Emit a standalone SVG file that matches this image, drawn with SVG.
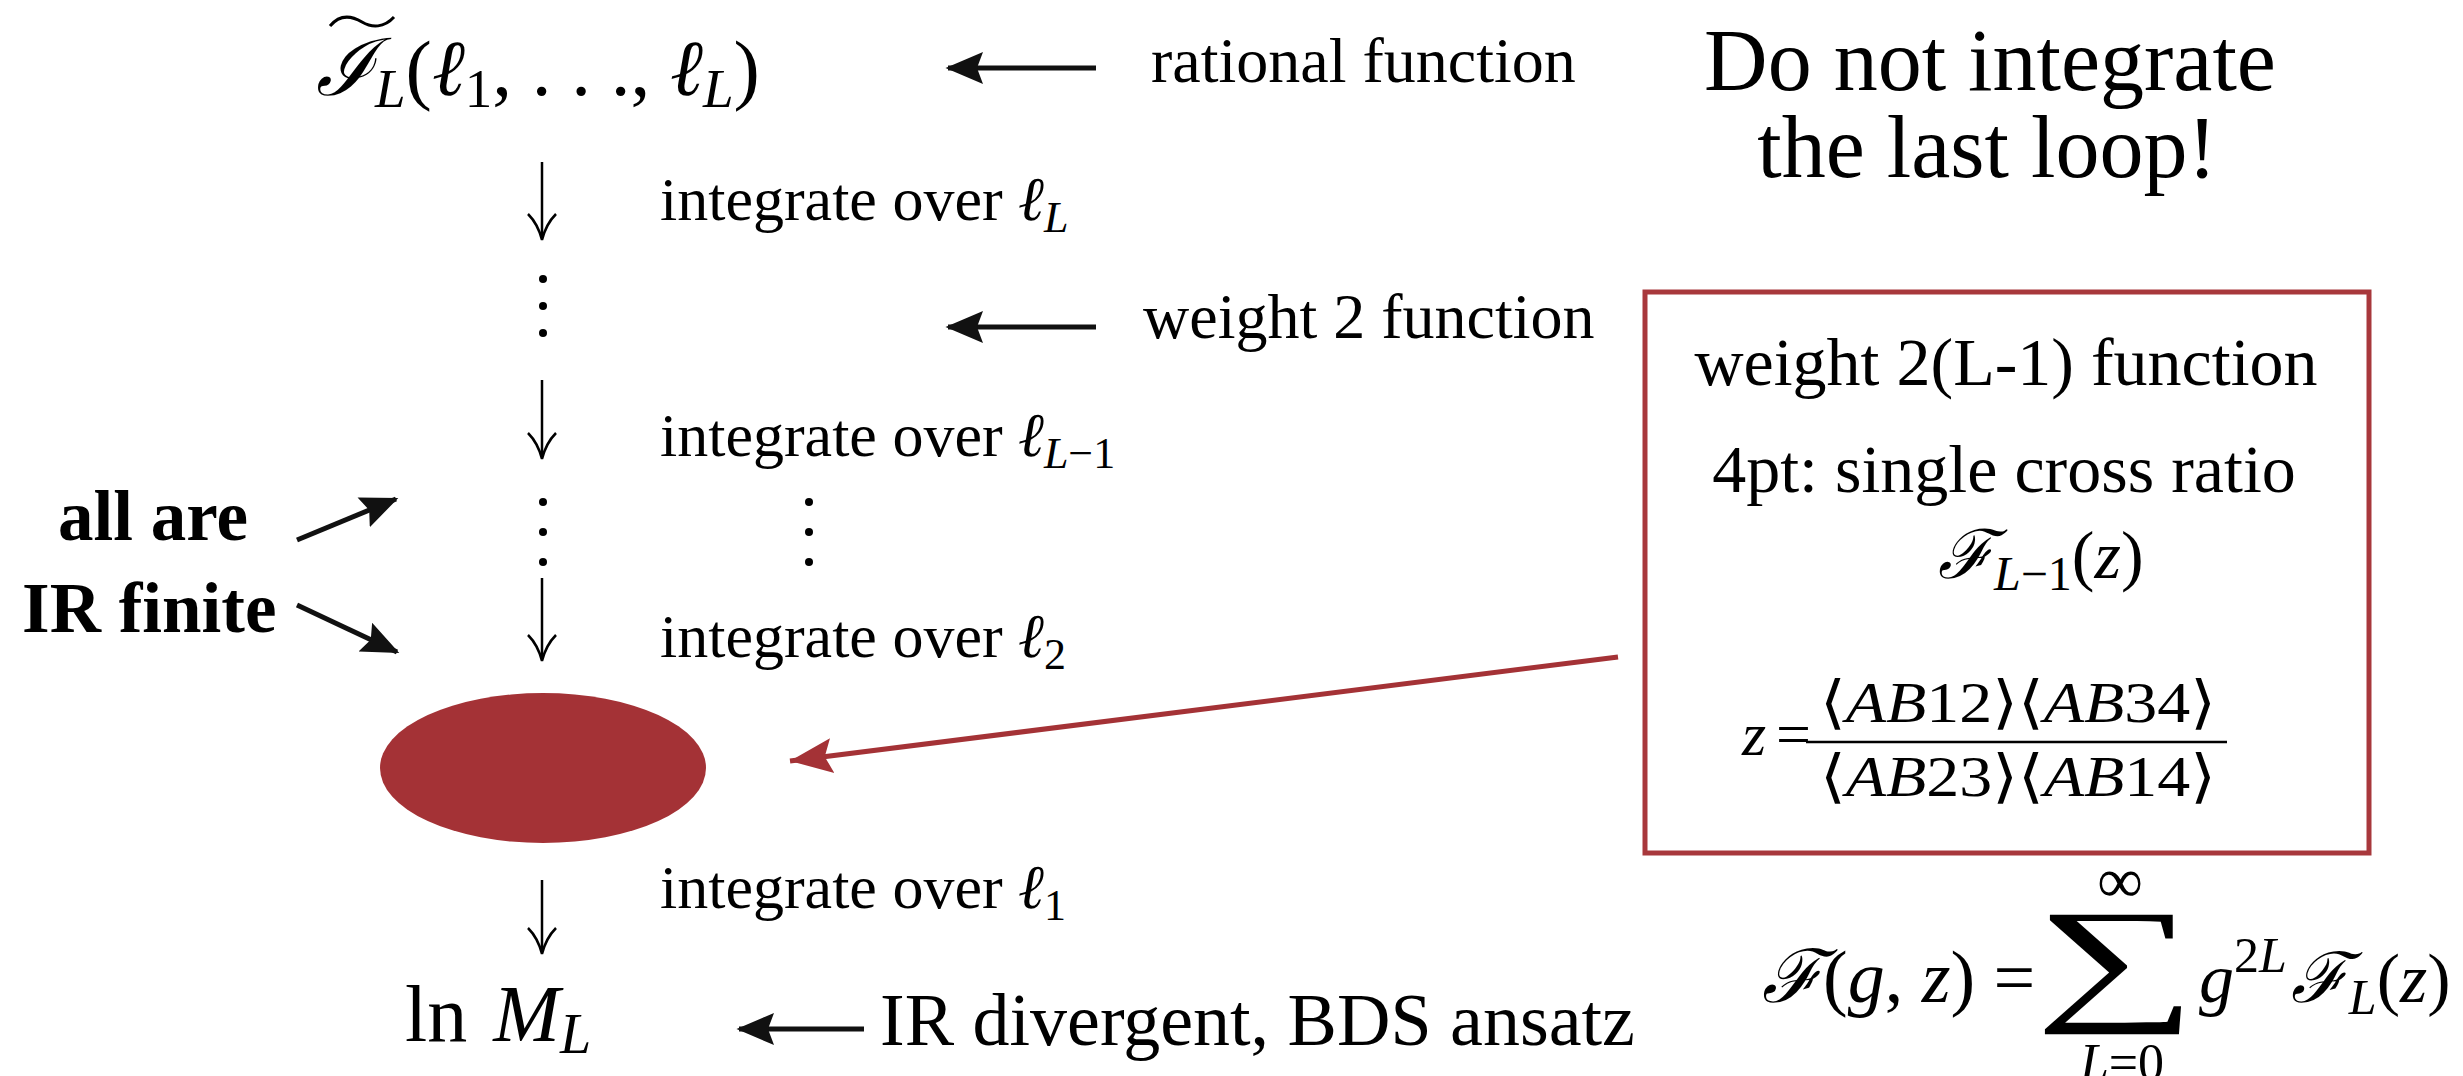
<svg xmlns="http://www.w3.org/2000/svg" width="2463" height="1076" viewBox="0 0 2463 1076">
<defs>
<style>
.t{font-family:"Liberation Serif","DejaVu Serif",serif;fill:#000}
.m{font-family:"Liberation Serif","DejaVu Serif",serif;fill:#000}
.i{font-style:italic}
.b{font-weight:bold}
.down{stroke:#000;stroke-width:2.5;fill:none}
.blk{stroke:#111;stroke-width:5;fill:none}
.dot{fill:#000}
</style>
<marker id="hk" markerWidth="8" markerHeight="8" refX="7" refY="4" orient="auto" markerUnits="strokeWidth"><path d="M0,0.8 L7.5,4 L0,7.2 L1.2,4 Z" fill="#111"/></marker>
<marker id="hr" markerWidth="10" markerHeight="9" refX="8.5" refY="4.5" orient="auto" markerUnits="strokeWidth"><path d="M0,1 L8.5,4.5 L0,8 L1.5,4.5 Z" fill="#a43236"/></marker>
</defs>
<rect width="2463" height="1076" fill="#fff"/>

<g id="top-formula">
<path d="M330,26 C340,14 352,16 362,22 C372,28 384,28 394,17" stroke="#000" stroke-width="3" fill="none"/>
<text class="m" x="316" y="95" font-size="79"><tspan class="i">ℐ</tspan><tspan class="i" font-size="55" dy="12">L</tspan><tspan dy="-12">(</tspan><tspan class="i">ℓ</tspan><tspan font-size="55" dy="12">1</tspan><tspan dy="-12">, . . ., </tspan><tspan class="i">ℓ</tspan><tspan class="i" font-size="55" dy="12">L</tspan><tspan dy="-12">)</tspan></text>
</g>

<g id="label-rational"><text class="t" x="1151" y="82" font-size="64">rational function</text></g>
<g id="title"><text class="t" x="1990" y="90" font-size="88" text-anchor="middle">Do not integrate</text><text class="t" x="1987" y="177" font-size="88" text-anchor="middle">the last loop!</text></g>

<g id="step-L"><text class="t" x="660" y="220" font-size="62">integrate over <tspan class="i">ℓ</tspan><tspan class="i" font-size="44" dy="12">L</tspan></text></g>
<g id="dots-1"><circle class="dot" cx="543" cy="279" r="4"/><circle class="dot" cx="543" cy="306" r="4"/><circle class="dot" cx="543" cy="333" r="4"/></g>
<g id="label-weight2"><text class="t" x="1143" y="338" font-size="64">weight 2 function</text></g>
<g id="step-L-1"><text class="t" x="660" y="456" font-size="62">integrate over <tspan class="i">ℓ</tspan><tspan class="i" font-size="44" dy="12">L</tspan><tspan font-size="44">−1</tspan></text></g>
<g id="dots-2"><circle class="dot" cx="543" cy="502" r="4"/><circle class="dot" cx="543" cy="532" r="4"/><circle class="dot" cx="543" cy="562" r="4"/><circle class="dot" cx="809" cy="502" r="4"/><circle class="dot" cx="809" cy="532" r="4"/><circle class="dot" cx="809" cy="562" r="4"/></g>
<g id="label-ir-finite"><text class="t b" x="58" y="540" font-size="71">all are</text><text class="t b" x="22" y="632" font-size="71">IR finite</text></g>
<g id="step-2"><text class="t" x="660" y="657" font-size="62">integrate over <tspan class="i">ℓ</tspan><tspan font-size="44" dy="12">2</tspan></text></g>
<g id="blob"><ellipse cx="543" cy="768" rx="163" ry="75" fill="#a43236"/></g>
<g id="step-1"><text class="t" x="660" y="908" font-size="62">integrate over <tspan class="i">ℓ</tspan><tspan font-size="44" dy="12">1</tspan></text></g>
<g id="result"><text class="m" x="405" y="1041" font-size="80">ln <tspan class="i" dx="6">M</tspan><tspan class="i" font-size="56" dy="12">L</tspan></text></g>
<g id="label-bds"><text class="t" x="880" y="1045" font-size="74">IR divergent, BDS ansatz</text></g>

<g id="box">
<rect x="1645" y="292" width="724" height="561" fill="none" stroke="#a8383c" stroke-width="5"/>
<text class="t" x="2006" y="385" font-size="68" text-anchor="middle">weight 2(L-1) function</text>
<text class="t" x="2004" y="492" font-size="68" text-anchor="middle">4pt: single cross ratio</text>
<text class="m" x="1938" y="578" font-size="68"><tspan class="i">ℱ</tspan><tspan class="i" font-size="48" dy="12">L</tspan><tspan font-size="48">−1</tspan><tspan dy="-12">(</tspan><tspan class="i">z</tspan><tspan>)</tspan></text>
<text class="m i" x="1742" y="755" font-size="62">z</text>
<text class="m" x="1776" y="755" font-size="62">=</text>
<text class="m" x="2018" y="722" font-size="58" text-anchor="middle" textLength="396" lengthAdjust="spacingAndGlyphs">⟨<tspan class="i">AB</tspan>12⟩⟨<tspan class="i">AB</tspan>34⟩</text>
<line x1="1806" y1="742" x2="2227" y2="742" stroke="#000" stroke-width="2.5"/>
<text class="m" x="2018" y="796" font-size="58" text-anchor="middle" textLength="396" lengthAdjust="spacingAndGlyphs">⟨<tspan class="i">AB</tspan>23⟩⟨<tspan class="i">AB</tspan>14⟩</text>
</g>

<g id="sum-formula">
<text class="m" x="1762" y="1002" font-size="74"><tspan class="i">ℱ</tspan>(<tspan class="i">g</tspan>, <tspan class="i">z</tspan>) =</text>
<text class="m" transform="translate(2116,1005) scale(1.65,1)" font-size="138" text-anchor="middle">∑</text>
<text class="m" x="2120" y="902" font-size="64" text-anchor="middle">∞</text>
<text class="m" x="2122" y="1080" font-size="52" text-anchor="middle"><tspan class="i">L</tspan>=0</text>
<text class="m" x="2199" y="1002" font-size="70"><tspan class="i">g</tspan><tspan font-size="50" dy="-30">2</tspan><tspan class="i" font-size="50">L</tspan><tspan class="i" dy="30" dx="4">ℱ</tspan><tspan class="i" font-size="50" dy="12">L</tspan><tspan dy="-12">(</tspan><tspan class="i">z</tspan>)</text>
</g>

<g id="connectors">
<g class="down">
<path d="M542,162 V238"/><path d="M528,214 Q538,224 542,240 Q546,224 556,214"/>
<path d="M542,380 V457"/><path d="M528,433 Q538,443 542,459 Q546,443 556,433"/>
<path d="M542,578 V659"/><path d="M528,635 Q538,645 542,661 Q546,645 556,635"/>
<path d="M542,880 V952"/><path d="M528,928 Q538,938 542,954 Q546,938 556,928"/>
</g>
<line class="blk" x1="1096" y1="68" x2="948" y2="68" marker-end="url(#hk)"/>
<line class="blk" x1="1096" y1="327" x2="948" y2="327" marker-end="url(#hk)"/>
<line class="blk" x1="864" y1="1029" x2="739" y2="1029" marker-end="url(#hk)"/>
<line class="blk" x1="297" y1="540" x2="396" y2="499" marker-end="url(#hk)"/>
<line class="blk" x1="297" y1="605" x2="397" y2="652" marker-end="url(#hk)"/>
<line x1="1618" y1="657" x2="790" y2="761" stroke="#a43236" stroke-width="5" marker-end="url(#hr)"/>
</g>
</svg>
